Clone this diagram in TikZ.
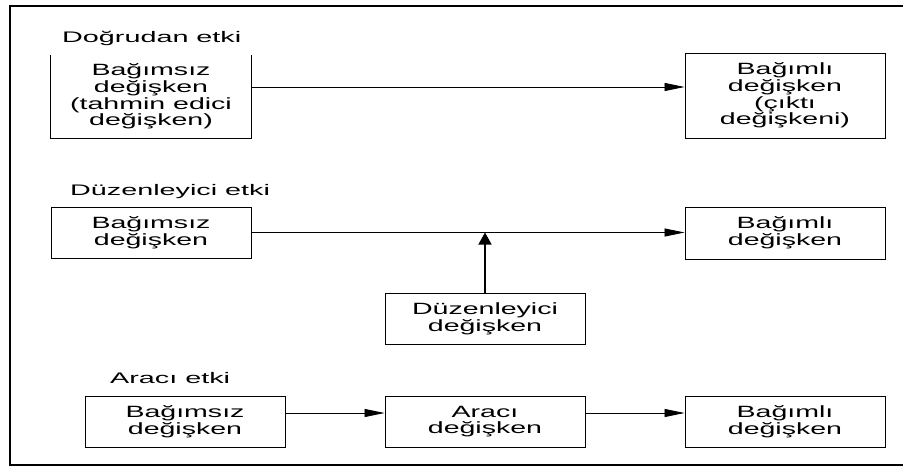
\documentclass[tikz,border=0pt]{standalone}
\usepackage{fontspec}
\setmainfont{Liberation Sans}[FakeStretch=1.75]
\newfontfamily\headfont{Liberation Sans}[FakeStretch=1.88]
\usetikzlibrary{arrows.meta}
\begin{document}
\begin{tikzpicture}[x=1pt,y=-1pt,
  box/.style={draw, line width=0.9pt, minimum width=200pt, inner sep=0pt,
    align=center, font=\fontsize{16.3}{16.7}\selectfont},
  openbox/.style={box, draw=none},
  title/.style={anchor=base west, inner sep=0pt, font=\headfont\fontsize{15.3}{16}\selectfont},
  link/.style={line width=0.8pt, -{Triangle[length=20pt,width=8pt]}},
  uplink/.style={line width=1.4pt, -{Triangle[length=12pt,width=13pt]}},
  frame/.style={line width=1.8pt}]
\useasboundingbox (0,0) rectangle (903,466);
\draw[frame] (10,6) rectangle (907,465);

% direct effect
\node[title] (t1) at (62,42) {Doğrudan etki};
\node[openbox, minimum height=83pt] (A1) at (151,96.5)
  {Bağımsız\\değişken\\(tahmin edici\\değişken)};
\draw[line width=0.9pt] (A1.north west) -- (A1.south west) -- (A1.south east) -- (A1.north east);
\node[box, minimum height=85pt] (A2) at (785,95.5)
  {Bağımlı\\değişken\\(çıktı\\değişkeni)};
\draw[link] ([yshift=9.5pt]A1.east) coordinate (a1) -- (a1 -| A2.west);

% moderating effect
\node[title] (t2) at (70,195) {Düzenleyici etki};
\node[box, minimum height=51pt] (B1) at (151,232.5) {Bağımsız\\değişken};
\node[box, minimum height=52pt] (B2) at (785,233) {Bağımlı\\değişken};
\node[box, minimum height=51pt] (B3) at (485,318.5) {Düzenleyici\\değişken};
\draw[link] (B1.east) -- (B1.east -| B2.west);
\draw[uplink] (B3.north) -- (B3.north |- B1.east);

% mediating effect
\node[title] (t3) at (110,383) {Aracı etki};
\node[box, minimum height=51pt] (C1) at (185,421.5) {Bağımsız\\değişken};
\node[box, minimum height=51pt] (C2) at (485,421.5) {Aracı\\değişken};
\node[box, minimum height=51pt] (C3) at (785,421.5) {Bağımlı\\değişken};
\draw[link] ([yshift=8.5pt]C1.east) coordinate (c1) -- (c1 -| C2.west);
\draw[link] ([yshift=8.5pt]C2.east) coordinate (c2) -- (c2 -| C3.west);
\end{tikzpicture}
\end{document}
